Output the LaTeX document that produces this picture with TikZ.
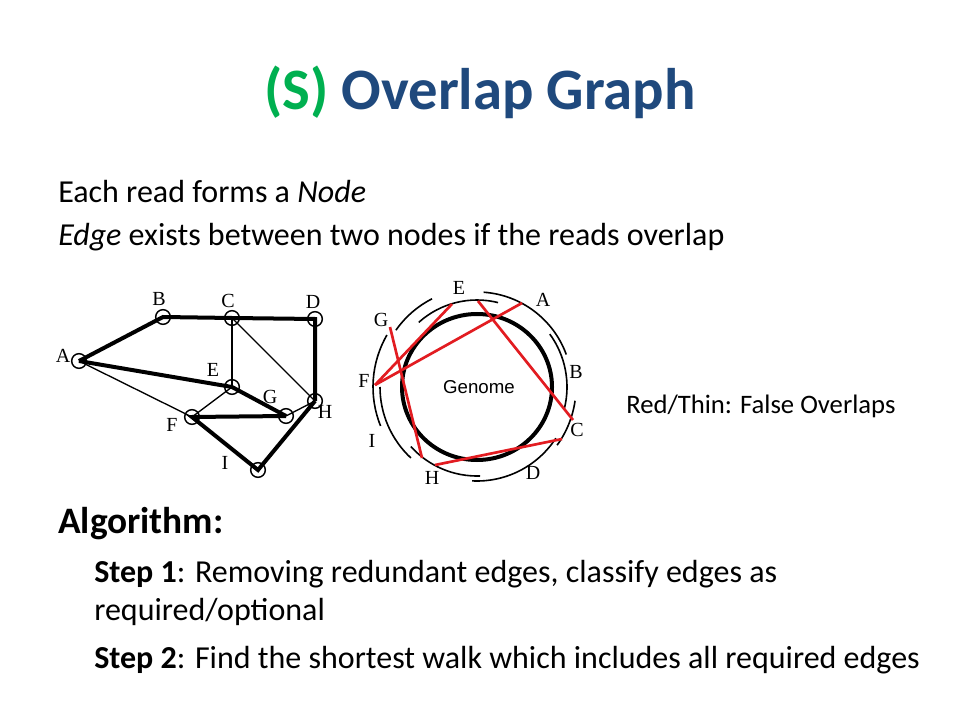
\documentclass[tikz,border=0pt]{standalone}
\usepackage{fontspec}
\setmainfont{Carlito}
\newfontfamily\timesfont{Liberation Serif}
\newfontfamily\arialfont{Liberation Sans}
\usepackage{xcolor}
\definecolor{slidegreen}{RGB}{0,176,80}
\definecolor{slideblue}{RGB}{31,73,125}
\definecolor{falsered}{RGB}{226,28,33}

\begin{document}
\begin{tikzpicture}[x=0.75pt, y=-0.75pt,
    vertex/.style={circle, draw, line width=1.1pt, minimum size=11pt, inner sep=0pt},
    vlabel/.style={font=\timesfont\fontsize{15}{15}\selectfont, inner sep=0pt},
    strong/.style={line width=3pt},
    weak/.style={line width=1pt},
    readarc/.style={line width=1.2pt},
    falseedge/.style={falsered, line width=2pt},
    bodytext/.style={anchor=base west, inner sep=0pt, font=\fontsize{24}{29}\selectfont}]

    % Slide background
    \fill[white] (0,0) rectangle (960,720);
    \useasboundingbox (0,0) rectangle (960,720);

    % Title
    \node[anchor=base, inner sep=0pt, font=\fontsize{44}{52}\selectfont\bfseries] (title) at (480,110)
        {\textcolor{slidegreen}{(S)} \textcolor{slideblue}{Overlap Graph}};

    % Bullet text
    \node[bodytext] (line1) at (58,203) {Each read forms a \textit{Node}};
    \node[bodytext] (line2) at (58,246) {\textit{Edge} exists between two nodes if the reads overlap};

    % Left graph: reads as nodes
    \node[vertex] (A) at (79,361) {};
    \node[vertex] (B) at (163,317) {};
    \node[vertex] (C) at (232,318) {};
    \node[vertex] (D) at (315,319) {};
    \node[vertex] (E) at (232,387) {};
    \node[vertex] (F) at (192,417) {};
    \node[vertex] (G) at (286,416) {};
    \node[vertex] (H) at (315,401) {};
    \node[vertex] (I) at (258,470) {};

    % Node letters
    \node[vlabel] (lA) at (63,356) {A};
    \node[vlabel] (lB) at (159,299) {B};
    \node[vlabel] (lC) at (228,301) {C};
    \node[vlabel] (lD) at (313,302) {D};
    \node[vlabel] (lE) at (213,370) {E};
    \node[vlabel] (lF) at (172,425) {F};
    \node[vlabel] (lG) at (270,397) {G};
    \node[vlabel] (lH) at (325,412) {H};
    \node[vlabel] (lI) at (225,463) {I};

    % True overlaps (thick)
    \draw[strong] (A.center) -- (B.center) -- (C.center) -- (D.center) -- (H.center);
    \draw[strong] (A.center) -- (E.center) -- (G.center);
    \draw[strong] (G.center) -- (F.center) -- (I.center) -- (H.center);

    % False overlaps (thin)
    \draw[weak] (C.center) -- (E.center);
    \draw[weak] (C.center) -- (H.center);
    \draw[weak] (A.center) -- (F.center);
    \draw[weak] (E.center) -- (F.center);
    \draw[weak] (G.center) -- (H.center);

    % Right diagram: reads on the circular genome
    \begin{scope}[shift={(477,387)}, y=0.75pt]
        % Draw genome
        \draw[line width=3pt] (0,0) ellipse [x radius=75, y radius=73];
        \node[font=\arialfont\fontsize{14}{14}\selectfont, inner sep=0pt] (genome) at (2,0) {Genome};

        % Draw reads
        \draw[readarc] (76:87) arc[start angle=76, end angle=132, radius=87];   % E
        \draw[readarc] (117:99) arc[start angle=117, end angle=145, radius=99]; % G
        \draw[readarc] (150:104) arc[start angle=150, end angle=202, radius=104]; % F
        \draw[readarc] (180:97) arc[start angle=180, end angle=227, radius=97]; % I
        \draw[readarc] (222:89) arc[start angle=222, end angle=272, radius=89]; % H
        \draw[readarc] (267:94) arc[start angle=267, end angle=327, radius=94]; % D
        \draw[readarc] (-36:99) arc[start angle=-36, end angle=-8, radius=99];  % C
        \draw[readarc] (-14:90) arc[start angle=-14, end angle=36, radius=90];  % B
        \draw[readarc] (20:95) arc[start angle=20, end angle=86, radius=95];    % A

        % Read letters
        \node[vlabel] (rE) at (-18,99) {E};
        \node[vlabel] (rA) at (66,87) {A};
        \node[vlabel] (rB) at (99,15) {B};
        \node[vlabel] (rC) at (100,-43) {C};
        \node[vlabel] (rD) at (56,-86) {D};
        \node[vlabel] (rH) at (-45,-91) {H};
        \node[vlabel] (rI) at (-105,-54) {I};
        \node[vlabel] (rF) at (-113,6) {F};
        \node[vlabel] (rG) at (-96,67) {G};

        % Read ends used by false overlaps
        \coordinate (endF) at (-102,2);
        \coordinate (endA) at (45,84);
        \coordinate (endE1) at (-25,83);
        \coordinate (endE2) at (1,86);
        \coordinate (endG) at (-87,60);
        \coordinate (endH1) at (-55,-71);
        \coordinate (endH2) at (-42,-78);
        \coordinate (endC1) at (96,-33);
        \coordinate (endC2) at (85,-52);

        % False overlaps (red)
        \draw[falseedge] (endF) -- (endA);
        \draw[falseedge] (endF) -- (endE1);
        \draw[falseedge] (endG) -- (endH1);
        \draw[falseedge] (endE2) -- (endC1);
        \draw[falseedge] (endH2) -- (endC2);
    \end{scope}

    % Legend
    \node[anchor=base west, inner sep=0pt, font=\fontsize{20}{24}\selectfont] (legend) at (626,413) {Red/Thin: False Overlaps};

    % Algorithm
    \node[anchor=base west, inner sep=0pt, font=\fontsize{28}{34}\selectfont\bfseries] (algo) at (58,533) {Algorithm:};
    \node[bodytext] (step1) at (94,582) {\textbf{Step 1}: Removing redundant edges, classify edges as};
    \node[bodytext] (step1b) at (94,620) {required/optional};
    \node[bodytext] (step2) at (94,668) {\textbf{Step 2}: Find the shortest walk which includes all required edges};
\end{tikzpicture}
\end{document}
